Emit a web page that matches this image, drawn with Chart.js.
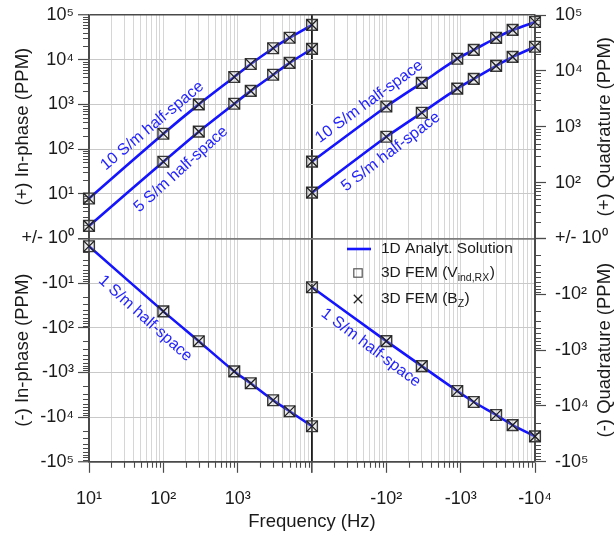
<!DOCTYPE html>
<html>
<head>
<meta charset="utf-8">
<script src="https://cdn.jsdelivr.net/npm/chart.js@4.4.1/dist/chart.umd.min.js"></script>
<style>
html,body{margin:0;padding:0;background:#ffffff;}
canvas{display:block;}
</style>
</head>
<body>
<canvas id="chart" width="614" height="533"></canvas>
<script>
// ---------------- data ----------------
const frequencies   = [10, 100, 300, 900, 1500, 3000, 5000, 10000];
const inPhase10     = [7.8, 220, 1000, 4100, 8000, 18000, 31000, 60000];
const inPhase5      = [1.9, 52, 245, 1030, 2000, 4600, 8500, 17500];
const inPhase1      = [-1.5, -43, -200, -950, -1750, -4200, -7400, -16000];
const quadrature10  = [237, 2300, 6100, 16500, 23700, 39000, 54000, 75000];
const quadrature5   = [66, 660, 1780, 4800, 7200, 12300, 17800, 27000];
const quadrature1   = [-75, -690, -1940, -5400, -8500, -14500, -22000, -35000];

// tick labels, one per decade
const xLabelsLeft       = ['10¹', '10²', '10³', ''];                           // 10^1 .. 10^4
const xLabelsRight      = ['', '-10²', '-10³', '-10⁴'];                        // 10^1 .. 10^4
const yLabelsLeftUpper  = ['+/- 10⁰', '10¹', '10²', '10³', '10⁴', '10⁵'];      // 10^0 .. 10^5
const yLabelsLeftLower  = ['', '-10¹', '-10²', '-10³', '-10⁴', '-10⁵'];        // 10^0 .. 10^5
const yLabelsRightUpper = ['+/- 10⁰', '10²', '10³', '10⁴', '10⁵'];             // 10^1 .. 10^5
const yLabelsRightLower = ['', '-10²', '-10³', '-10⁴', '-10⁵'];                // 10^1 .. 10^5

const seriesNames = ['10 S/m half-space', '5 S/m half-space', '1 S/m half-space'];
const axisTitles  = ['(+) In-phase (PPM)', '(-) In-phase (PPM)', '(+) Quadrature (PPM)', '(-) Quadrature (PPM)', 'Frequency (Hz)'];
const legendTexts = [['1D Analyt. Solution'], ['3D FEM (V', 'ind,RX', ')'], ['3D FEM (B', 'Z', ')']];

// ---------------- styles ----------------
const FONT = '"Liberation Sans", Arial, Helvetica, sans-serif';
const TEXT = '#1a1a1a';
const BORDER = '#4a4a4a';
const BLUE = '#1414ff';
const MINOR_LEN = 6;
Chart.defaults.font.family = FONT;
Chart.defaults.color = TEXT;

function expOf(v) {
  const e = Math.log10(v);
  return Math.abs(e - Math.round(e)) < 1e-9 ? Math.round(e) : null;
}
function decadeTicks(minExp, maxExp) {
  const t = [];
  for (let e = minExp; e < maxExp; e++) {
    for (let k = 1; k <= 9; k++) t.push({ value: k * Math.pow(10, e) });
  }
  t.push({ value: Math.pow(10, maxExp) });
  return t;
}

function xAxis(labels, weight, innerExp, outerExp) {
  return {
    type: 'logarithmic', position: 'bottom', stack: 'freq', weight: weight,
    min: 10, max: 10000,
    afterBuildTicks: s => { s.ticks = decadeTicks(1, 4); },
    afterFit: s => { s.height = 45; s.paddingLeft = 0; s.paddingRight = 0; },
    ticks: {
      autoSkip: false, maxRotation: 0, minRotation: 0, padding: 15, color: TEXT,
      font: { size: 18 },
      callback: v => { const e = expOf(v); return e === null ? '' : (labels[e - 1] || ''); }
    },
    grid: {
      drawOnChartArea: true, tickLength: 11,
      color: c => {
        if (!c.tick) return '#d6d6d6';
        const e = expOf(c.tick.value);
        if (e === innerExp) return '#1e1e1e';
        if (e === outerExp) return BORDER;
        return '#d6d6d6';
      },
      lineWidth: c => (c.tick && expOf(c.tick.value) === innerExp) ? 1.6 : 1,
      tickColor: c => (c.tick && expOf(c.tick.value) !== null) ? BORDER : 'rgba(0,0,0,0)',
      tickWidth: 1.2
    },
    border: { display: true, color: BORDER, width: 1.5 }
  };
}

function yLeftAxis(labels, weight, reverse, title) {
  return {
    type: 'logarithmic', position: 'left', stack: 'left', weight: weight, reverse: reverse,
    min: 1, max: 100000,
    afterBuildTicks: s => { s.ticks = decadeTicks(0, 5); },
    afterFit: s => { s.width = 89; s.paddingTop = 0; s.paddingBottom = 0; },
    ticks: {
      autoSkip: false, padding: 4, color: TEXT, font: { size: 18 },
      callback: v => { const e = expOf(v); return e === null ? '' : (labels[e] || ''); }
    },
    grid: {
      drawOnChartArea: true, tickLength: 11,
      color: c => {
        if (!c.tick) return 'rgba(0,0,0,0)';
        const e = expOf(c.tick.value);
        if (e === null) return 'rgba(0,0,0,0)';
        if (e === 0) return '#7c7c7c';
        if (e === 5) return BORDER;
        return '#c9c9c9';
      },
      lineWidth: c => (c.tick && (expOf(c.tick.value) === 0 || expOf(c.tick.value) === 5)) ? 1.5 : 1,
      tickColor: c => (c.tick && expOf(c.tick.value) !== null) ? BORDER : 'rgba(0,0,0,0)',
      tickWidth: 1.2
    },
    border: { display: true, color: BORDER, width: 1.5 },
    title: { display: true, text: title, color: TEXT, font: { size: 18.5 }, padding: { top: 12, bottom: 0 } }
  };
}

function yRightAxis(labels, weight, reverse) {
  return {
    type: 'logarithmic', position: 'right', stack: 'right', weight: weight, reverse: reverse,
    min: 10, max: 100000,
    afterBuildTicks: s => { s.ticks = decadeTicks(1, 5); },
    afterFit: s => { s.width = 79; s.paddingTop = 0; s.paddingBottom = 0; },
    ticks: {
      autoSkip: false, padding: 9, color: TEXT, font: { size: 18 },
      callback: v => { const e = expOf(v); return e === null ? '' : (labels[e - 1] || ''); }
    },
    grid: {
      drawOnChartArea: false, tickLength: 11,
      tickColor: c => (c.tick && expOf(c.tick.value) !== null) ? BORDER : 'rgba(0,0,0,0)',
      tickWidth: 1.2
    },
    border: { display: true, color: BORDER, width: 1.5 }
  };
}

function series(values, xId, yId) {
  const pts = frequencies.map((f, i) => ({ x: f, y: Math.abs(values[i]) }));
  return [
    { data: pts, xAxisID: xId, yAxisID: yId, borderColor: BLUE, borderWidth: 2.6,
      pointRadius: 0, tension: 0.2, fill: false, order: 3, clip: false },
    { data: pts, xAxisID: xId, yAxisID: yId, showLine: false, pointStyle: 'rect',
      pointRadius: 7.6, pointBorderWidth: 1.4, pointBorderColor: '#3a3a3a',
      pointBackgroundColor: 'rgba(190,190,190,0.3)', order: 2, clip: false },
    { data: pts, xAxisID: xId, yAxisID: yId, showLine: false, pointStyle: 'crossRot',
      pointRadius: 7.6, pointBorderWidth: 1.3, pointBorderColor: '#1e1e1e',
      pointBackgroundColor: 'rgba(0,0,0,0)', order: 1, clip: false }
  ];
}

const datasets = [].concat(
  series(inPhase10, 'xL', 'yLT'),
  series(inPhase5, 'xL', 'yLT'),
  series(inPhase1, 'xL', 'yLB'),
  series(quadrature10, 'xR', 'yRT'),
  series(quadrature5, 'xR', 'yRT'),
  series(quadrature1, 'xR', 'yRB')
);

// ---------------- curve labels (anchored in data coordinates) ----------------
const curveLabels = [
  { text: seriesNames[0], f: 71,  v: 330,  xAxis: 'xL', yAxis: 'yLT', angle: -40 },
  { text: seriesNames[1], f: 173, v: 35,   xAxis: 'xL', yAxis: 'yLT', angle: -42 },
  { text: seriesNames[0], f: 59,  v: 2800, xAxis: 'xR', yAxis: 'yRT', angle: -36 },
  { text: seriesNames[1], f: 115, v: 355,  xAxis: 'xR', yAxis: 'yRT', angle: -37.5 },
  { text: seriesNames[2], f: 57,  v: 62,   xAxis: 'xL', yAxis: 'yLB', angle: 42 },
  { text: seriesNames[2], f: 62,  v: 910,  xAxis: 'xR', yAxis: 'yRB', angle: 37 }
];

const minorTicks = {
  id: 'minorTicks',
  beforeDatasetsDraw(chart) {
    const { ctx, chartArea } = chart;
    ctx.save();
    ctx.strokeStyle = BORDER; ctx.lineWidth = 1.1;
    ctx.beginPath();
    for (const s of Object.values(chart.scales)) {
      for (const t of s.ticks) {
        if (expOf(t.value) !== null) continue;
        const p = Math.round(s.getPixelForValue(t.value)) + 0.5;
        if (s.isHorizontal()) { ctx.moveTo(p, chartArea.bottom); ctx.lineTo(p, chartArea.bottom + MINOR_LEN); }
        else if (s.position === 'left') { ctx.moveTo(chartArea.left, p); ctx.lineTo(chartArea.left - MINOR_LEN, p); }
        else { ctx.moveTo(chartArea.right, p); ctx.lineTo(chartArea.right + MINOR_LEN, p); }
      }
    }
    ctx.stroke();
    ctx.restore();
  }
};

const annotations = {
  id: 'annotations',
  afterDatasetsDraw(chart) {
    const { ctx, chartArea } = chart;
    // curve labels
    for (const a of curveLabels) {
      const x = chart.scales[a.xAxis].getPixelForValue(a.f);
      const y = chart.scales[a.yAxis].getPixelForValue(a.v);
      ctx.save();
      ctx.translate(x, y);
      ctx.rotate(a.angle * Math.PI / 180);
      ctx.font = '16px ' + FONT;
      ctx.fillStyle = '#2323ff';
      ctx.textAlign = 'center'; ctx.textBaseline = 'middle';
      ctx.fillText(a.text, 0, 0);
      ctx.restore();
    }
    // right-hand axis titles (read bottom-to-top)
    const rt = [['yRT', axisTitles[2]], ['yRB', axisTitles[3]]];
    for (const [id, text] of rt) {
      const s = chart.scales[id];
      ctx.save();
      ctx.translate(s.right - 9, (s.top + s.bottom) / 2);
      ctx.rotate(-Math.PI / 2);
      ctx.font = '18.5px ' + FONT;
      ctx.fillStyle = TEXT;
      ctx.textAlign = 'center'; ctx.textBaseline = 'middle';
      ctx.fillText(text, 0, 0);
      ctx.restore();
    }
    // legend
    const lx = chartArea.left + 258, ly = chartArea.top + 234;
    const rows = [0, 24, 50];
    const textX = lx + 34;
    const half = 4.2;
    ctx.save();
    ctx.lineCap = 'butt';
    // line sample
    ctx.strokeStyle = BLUE; ctx.lineWidth = 2.6;
    ctx.beginPath(); ctx.moveTo(lx, ly + rows[0]); ctx.lineTo(lx + 24, ly + rows[0]); ctx.stroke();
    // square sample
    ctx.strokeStyle = '#555'; ctx.lineWidth = 1.2;
    ctx.strokeRect(lx + 11 - half, ly + rows[1] - half, 2 * half, 2 * half);
    // cross sample
    ctx.strokeStyle = '#222'; ctx.lineWidth = 1.3;
    ctx.beginPath();
    ctx.moveTo(lx + 11 - half, ly + rows[2] - half); ctx.lineTo(lx + 11 + half, ly + rows[2] + half);
    ctx.moveTo(lx + 11 + half, ly + rows[2] - half); ctx.lineTo(lx + 11 - half, ly + rows[2] + half);
    ctx.stroke();
    // texts with subscripts
    ctx.fillStyle = TEXT; ctx.textBaseline = 'middle'; ctx.textAlign = 'left';
    legendTexts.forEach((parts, i) => {
      let x = textX;
      const y = ly + rows[i];
      parts.forEach((p, j) => {
        const sub = parts.length === 3 && j === 1;
        ctx.font = (sub ? '10.5px ' : '15.5px ') + FONT;
        ctx.fillText(p, x, sub ? y + 5 : y);
        x += ctx.measureText(p).width + (sub ? 0.5 : 0);
      });
    });
    ctx.restore();
  }
};

new Chart(document.getElementById('chart'), {
  type: 'line',
  data: { datasets: datasets },
  options: {
    responsive: false, animation: false, devicePixelRatio: 1, events: [],
    layout: { padding: { top: 15, left: 0, right: 0, bottom: 0 } },
    scales: {
      xL: xAxis(xLabelsLeft, 0, 4, 1),
      xR: xAxis(xLabelsRight, 1, 1, 4),
      yLT: yLeftAxis(yLabelsLeftUpper, 1, false, axisTitles[0]),
      yLB: yLeftAxis(yLabelsLeftLower, 0, true, axisTitles[1]),
      yRT: yRightAxis(yLabelsRightUpper, 0, false),
      yRB: yRightAxis(yLabelsRightLower, 1, true)
    },
    plugins: {
      legend: { display: false },
      tooltip: { enabled: false },
      title: {
        display: true, text: axisTitles[4], position: 'bottom', fullSize: false,
        color: TEXT, font: { size: 18.5, weight: 'normal' }, padding: { top: 4, bottom: 0 }
      }
    }
  },
  plugins: [minorTicks, annotations]
});
</script>
</body>
</html>
